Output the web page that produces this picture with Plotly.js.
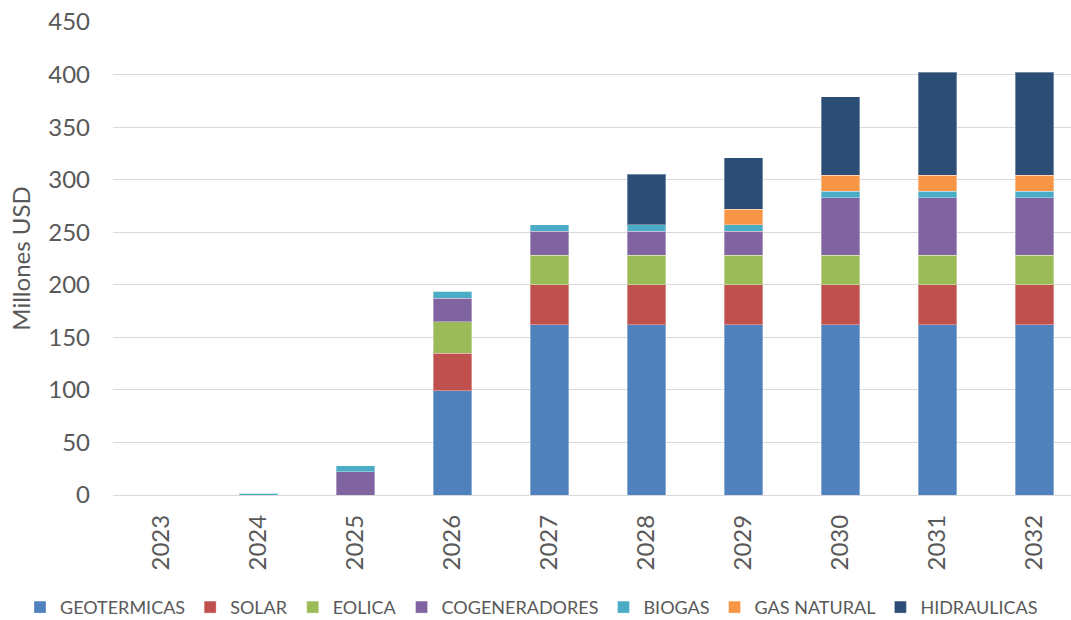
<!DOCTYPE html>
<html>
<head>
<meta charset="utf-8">
<script src="https://cdn.plot.ly/plotly-3.0.1.min.js"></script>
<style>
  html, body { margin: 0; padding: 0; background: #ffffff; overflow: hidden; }
  #frame { width: 1071px; height: 620px; overflow: hidden; position: relative; }
  #chart { width: 1071px; height: 650px; }
</style>
</head>
<body>
<div id="frame"><div id="chart"></div></div>
<script>
const years = ["2023", "2024", "2025", "2026", "2027", "2028", "2029", "2030", "2031", "2032"];
const geotermicas   = [0, 0, 0, 99, 162, 162, 162, 162, 162, 162];
const solar         = [0, 0, 0, 36, 38, 38, 38, 38, 38, 38];
const eolica        = [0, 0, 0, 30, 28, 28, 28, 28, 28, 28];
const cogeneradores = [0, 0, 22, 22, 23, 23, 23, 55, 55, 55];
const biogas        = [0, 1.5, 6, 7, 6, 6, 6, 6, 6, 6];
const gasNatural    = [0, 0, 0, 0, 0, 0, 15, 15, 15, 15];
const hidraulicas   = [0, 0, 0, 0, 0, 48, 49, 75, 98, 98];
const yTicks = [0, 50, 100, 150, 200, 250, 300, 350, 400, 450];

const seriesNames  = ["GEOTERMICAS", "SOLAR", "EOLICA", "COGENERADORES", "BIOGAS", "GAS NATURAL", "HIDRAULICAS"];
const seriesValues = [geotermicas, solar, eolica, cogeneradores, biogas, gasNatural, hidraulicas];
const seriesColors = ["#4F81BD", "#C0504D", "#9BBB59", "#8064A2", "#4BACC6", "#F79646", "#2C4D75"];

const FONT = "Lato, 'Liberation Sans', sans-serif";
const TXT = "#595959";

const traces = seriesNames.map((name, i) => ({
  type: "bar",
  name: name,
  x: years,
  y: seriesValues[i],
  marker: { color: seriesColors[i], line: { color: "rgba(255,255,255,0.35)", width: 1 } },
  hoverinfo: "x+y+name"
}));

// Paper is drawn a little taller than the 620px frame so the legend never pushes the plot margins.
const W = 1071, H = 650, ML = 113, MR = 0, MT = 22, PLOT_BOTTOM = 495.5;
const MB = H - PLOT_BOTTOM;
const plotW = W - ML - MR, plotH = PLOT_BOTTOM - MT;
const LEGEND_CENTER_Y = 608;

const layout = {
  width: W,
  height: H,
  barmode: "stack",
  bargap: 0.6,
  paper_bgcolor: "#ffffff",
  plot_bgcolor: "#ffffff",
  font: { family: FONT, color: TXT },
  margin: { l: ML, r: MR, t: MT, b: MB },
  xaxis: {
    type: "category",
    range: [-0.5, 9.376],
    tickangle: -90,
    tickfont: { size: 24, color: TXT, family: FONT },
    ticklabelstandoff: 14,
    showgrid: false,
    showline: false,
    zeroline: false,
    ticks: ""
  },
  yaxis: {
    range: [0, 450],
    tickvals: yTicks,
    ticktext: yTicks.map(String),
    tickfont: { size: 24, color: TXT, family: FONT },
    ticklabelstandoff: 22,
    showgrid: true,
    gridcolor: "#D9D9D9",
    gridwidth: 1.3,
    zeroline: true,
    zerolinecolor: "#D9D9D9",
    zerolinewidth: 1.3,
    showline: false,
    ticks: "",
    title: { text: "Millones USD", font: { size: 24, color: TXT, family: FONT }, standoff: 10 }
  },
  legend: {
    orientation: "h",
    xref: "paper",
    yref: "paper",
    x: (20 - ML) / plotW,
    xanchor: "left",
    y: -(LEGEND_CENTER_Y - PLOT_BOTTOM) / plotH,
    yanchor: "middle",
    font: { size: 18, color: TXT, family: FONT },
    traceorder: "normal",
    itemclick: false
  },
  showlegend: true
};

Plotly.newPlot("chart", traces, layout, { displayModeBar: false });
</script>
</body>
</html>
